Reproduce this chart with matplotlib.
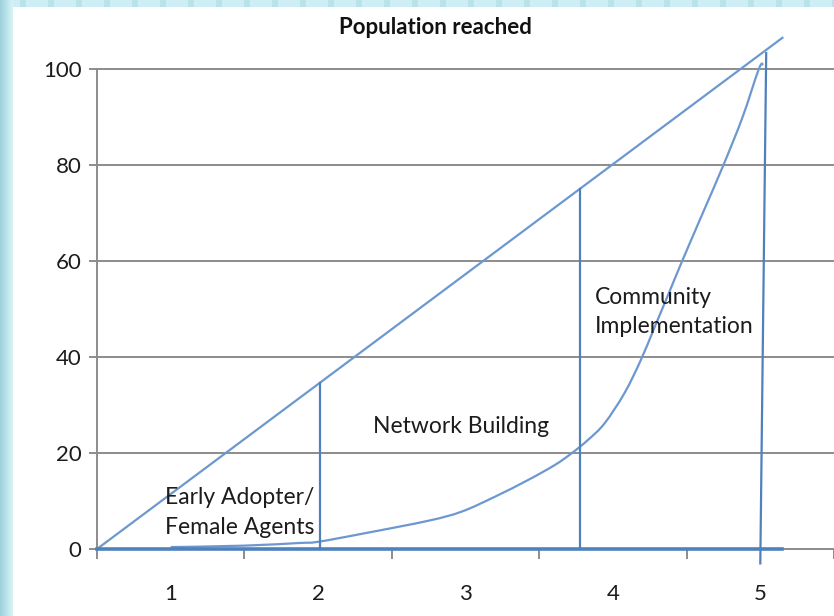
import matplotlib
matplotlib.use("Agg")
import matplotlib.pyplot as plt
import numpy as np
from matplotlib.patches import Rectangle, PathPatch
from matplotlib.path import Path

# ---- data ----
categories = ["1", "2", "3", "4", "5"]
cat_pos = [1, 2, 3, 4, 5]
yticks = [0, 20, 40, 60, 80, 100]

diag_x = [0.5, 5.15]
diag_y = [0, 106.5]

curve_x = [1.0, 1.5, 1.87, 2.0, 2.32, 2.75, 2.975, 3.2, 3.426, 3.606, 3.718, 3.83,
           3.944, 4.079, 4.19, 4.28, 4.37, 4.47, 4.61, 4.75, 4.88, 4.99, 5.02]
curve_y = [0.4, 0.7, 1.25, 1.5, 3.3, 5.9, 7.8, 10.9, 14.4, 17.5, 19.9, 22.7,
           26.2, 32.5, 39.4, 46.0, 52.6, 60.0, 70.0, 80.0, 90.0, 100.0, 101.0]

base_x = [0.5, 5.15]
base_y = [0, 0]

v1_x = [2.01, 2.01]; v1_y = [0, 34.6]
v2_x = [3.78, 3.78]; v2_y = [0, 75.0]
v3_x = [5.0, 5.04]; v3_y = [-3.0, 103.3]

title = "Population reached"
labels = [("Early Adopter/\nFemale Agents", 0.96, 7.6, "left"),
          ("Network Building", 2.97, 25.6, "center"),
          ("Community\nImplementation", 3.88, 49.4, "left")]

W, H = 834, 616
fig = plt.figure(figsize=(W / 100, H / 100), dpi=100)
fig.patch.set_facecolor("#cdeef4")

# background stripes (slide texture)
bg = fig.add_axes([0, 0, 1, 1], zorder=-10)
bg.set_xlim(0, W); bg.set_ylim(H, 0); bg.axis("off")
grad = np.linspace(0, 1, 14)[None, :]
bg.imshow(np.repeat(grad, 2, axis=0), extent=[0, 13, H, 0], aspect="auto",
          cmap=matplotlib.colors.LinearSegmentedColormap.from_list("g", ["#9fd2dc", "#d6f3f8"]))
bg.add_patch(Rectangle((13, 7), W - 13, H - 7, facecolor="white", edgecolor="none"))
for sx in range(20, W, 28):
    bg.add_patch(Rectangle((sx, 0), 6, 7, facecolor="#b9e2ea", edgecolor="none"))

font = "Lato"
txt_color = "#1c1c1c"
blue = "#4f81bd"
blue_l = "#6d98cf"
grey = "#8c8c8c"

x0_px, y0_px = 97, 549
ppu_x, ppu_y = 148.0, 4.8
ymax = 108.0
xmax = 0.5 + (W - x0_px) / ppu_x
ax_left = x0_px / W
ax_bottom = 1 - y0_px / H
ax_h = ymax * ppu_y / H
ax = fig.add_axes([ax_left, ax_bottom, 1 - ax_left, ax_h])
ax.set_facecolor("none")
ax.set_xlim(0.5, xmax)
ax.set_ylim(0, ymax)

for s in ["top", "right"]:
    ax.spines[s].set_visible(False)
ax.spines["left"].set_bounds(0, 100)
ax.spines["left"].set_color(grey)
ax.spines["bottom"].set_color(grey)
ax.spines["left"].set_linewidth(1.4)
ax.spines["bottom"].set_linewidth(1.4)

ax.set_yticks(yticks)
ax.set_yticklabels([str(v) for v in yticks], fontfamily=font, fontsize=16, color=txt_color)
ax.tick_params(axis="y", direction="out", length=6, width=1.4, color=grey, pad=5)

ax.set_xticks([0.5, 1.5, 2.5, 3.5, 4.5, 5.5])
ax.set_xticklabels([])
ax.set_xticks(cat_pos, minor=True)
ax.set_xticklabels(categories, minor=True, fontfamily=font, fontsize=16, color=txt_color)
ax.tick_params(axis="x", which="major", direction="out", length=7, width=1.4, color=grey)
ax.tick_params(axis="x", which="minor", length=0, pad=25)

for v in yticks[1:]:
    ax.axhline(v, color=grey, lw=1.4, zorder=1)

ax.plot(diag_x, diag_y, color=blue_l, lw=1.6, clip_on=False, zorder=3)

# smoothed line (Catmull-Rom as cubic Bezier), like a spreadsheet "smoothed line"
P = np.column_stack([curve_x, curve_y])
verts = [tuple(P[0])]
codes = [Path.MOVETO]
for i in range(len(P) - 1):
    p0 = P[i - 1] if i > 0 else P[i]
    p1, p2 = P[i], P[i + 1]
    p3 = P[i + 2] if i + 2 < len(P) else P[i + 1]
    c1 = p1 + (p2 - p0) / 6.0
    c2 = p2 - (p3 - p1) / 6.0
    verts += [tuple(c1), tuple(c2), tuple(p2)]
    codes += [Path.CURVE4] * 3
ax.add_patch(PathPatch(Path(verts, codes), facecolor="none", edgecolor=blue_l,
                       lw=1.6, clip_on=False, zorder=3))

ax.plot(base_x, base_y, color=blue, lw=2.6, clip_on=False, zorder=4)
for vx, vy in [(v1_x, v1_y), (v2_x, v2_y), (v3_x, v3_y)]:
    ax.plot(vx, vy, color=blue, lw=1.6, clip_on=False, zorder=4)

for t, x, y, ha in labels:
    ax.text(x, y, t, ha=ha, va="center", fontfamily=font, fontsize=16.5,
            color=txt_color, linespacing=1.5, zorder=5)

fig.text(435 / W, 1 - 28 / H, title, ha="center", va="center", fontfamily=font,
         fontsize=16, fontweight="bold", color="#111111")

fig.savefig("out.png", dpi=100, facecolor=fig.get_facecolor())
